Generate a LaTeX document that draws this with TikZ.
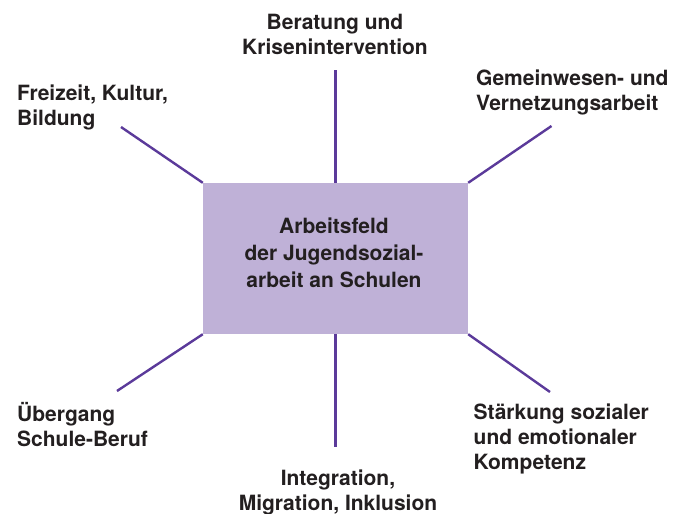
\documentclass[tikz,border=0pt]{standalone}
\usepackage{fontspec}
\setmainfont{TeX Gyre Heros}
\definecolor{boxfill}{HTML}{BFB1D7}
\definecolor{linecol}{HTML}{5B3A9A}
\definecolor{textcol}{HTML}{231F20}
\begin{document}
\begin{tikzpicture}[x=1pt,y=-1pt,
  lbl/.style={inner sep=0pt,text=textcol,font=\fontsize{21}{25}\selectfont\bfseries},
  conn/.style={draw=linecol,line width=2.4pt},
  boxstyle/.style={fill=boxfill,draw=none,minimum width=265pt,minimum height=151pt,inner sep=0pt}]
\useasboundingbox (0,0) rectangle (686,514);
\node[boxstyle] (c) at (335.5,258.5) {};
\node[lbl,align=center,anchor=base,font=\fontsize{21}{27}\selectfont\bfseries] (ct) at (334,287.3) {Arbeitsfeld\\der Jugendsozial-\\arbeit an Schulen};
\node[lbl,align=center,anchor=base] (lt) at (335,54.5) {Beratung und\\Krisenintervention};
\node[lbl,align=left,anchor=base west] (ltl) at (17,125) {Freizeit, Kultur,\\Bildung};
\node[lbl,align=left,anchor=base west] (ltr) at (476,110) {Gemeinwesen- und\\Vernetzungsarbeit};
\node[lbl,align=left,anchor=base west] (lbl) at (17,446.5) {Übergang\\Schule-Beruf};
\node[lbl,align=left,anchor=base west] (lbr) at (473.5,469.5) {Stärkung sozialer\\und emotionaler\\Kompetenz};
\node[lbl,align=center,anchor=base] (lb) at (338,510.5) {Integration,\\Migration, Inklusion};
\coordinate (et) at (335.5,70);
\coordinate (etl) at (121,127);
\coordinate (etr) at (551.5,126);
\coordinate (ebl) at (117,391);
\coordinate (ebr) at (550,392);
\coordinate (eb) at (335.5,447);
\draw[conn] (c.north) -- (et);
\draw[conn] (c.north west) -- (etl);
\draw[conn] (c.north east) -- (etr);
\draw[conn] (c.south west) -- (ebl);
\draw[conn] (c.south east) -- (ebr);
\draw[conn] (c.south) -- (eb);
\end{tikzpicture}
\end{document}
